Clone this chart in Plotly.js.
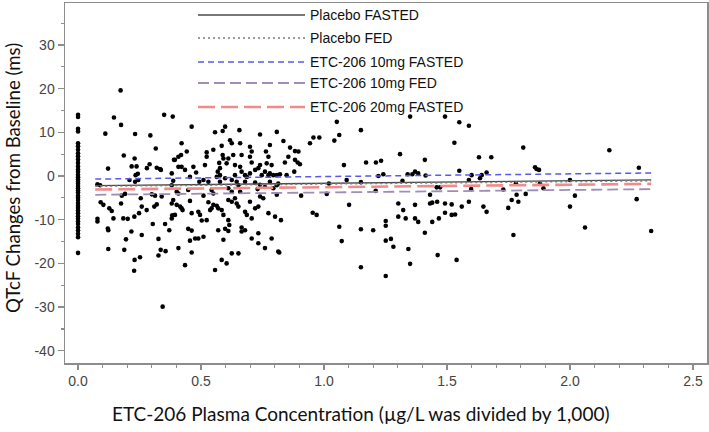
<!DOCTYPE html>
<html>
<head>
<meta charset="utf-8">
<script src="https://cdn.plot.ly/plotly-3.0.1.min.js"></script>
<style>html,body{margin:0;padding:0;background:#fff;}#chart{width:709px;height:432px;}</style>
</head>
<body>
<div id="chart"></div>
<script>
// Observed points: plasma concentration (x) vs QTcF change (y)
const concX = [
0,0,0,0,0,0,0,0,0,0,0,0,0,0,0,0,0,0,0,0,0,0,0,0,0,0,0,0,0,0,0,0,0,0,0,0,0,0,0,0,
0.173,0.146,0.175,0.35,0.385,0.111,0.232,0.294,0.316,0.186,0.23,0.122,0.218,0.238,0.291,0.32,0.333,0.243,0.209,0.232,
0.245,0.079,0.09,0.191,0.178,0.30,0.313,0.34,0.092,0.103,0.127,0.137,0.175,0.255,0.259,0.279,0.31,0.32,0.144,0.184,
0.202,0.229,0.248,0.079,0.079,0.121,0.123,0.304,0.354,0.371,0.217,0.259,0.195,0.327,0.123,0.188,0.336,0.356,0.327,0.23,
0.252,0.228,0.344,0.39,0.383,0.394,0.408,0.381,0.435,0.337,0.618,0.234,0.28,0.48,
0.462,0.557,0.588,0.598,0.656,0.74,0.808,0.421,0.419,0.442,0.421,0.408,0.469,0.516,0.523,0.523,0.55,0.584,0.588,0.591,
0.574,0.577,0.568,0.577,0.604,0.611,0.625,0.631,0.659,0.665,0.699,0.706,0.699,0.706,0.638,0.659,0.665,0.679,0.686,0.699,
0.679,0.72,0.733,0.747,0.76,0.774,0.78,0.794,0.808,0.767,0.774,0.787,0.764,0.78,0.74,0.381,0.387,0.401,0.408,0.387,
0.381,0.415,0.421,0.425,0.455,0.448,0.462,0.489,0.496,0.503,0.523,0.51,0.53,0.537,0.543,0.55,0.564,0.57,0.584,0.591,
0.611,0.615,0.55,0.543,0.611,0.625,0.638,0.645,0.652,0.611,0.625,0.659,0.679,0.686,0.706,0.699,0.72,0.733,0.74,0.753,
0.774,0.801,0.401,0.394,0.381,0.448,0.462,0.455,0.476,0.489,0.51,0.408,0.462,0.435,0.557,0.57,0.598,0.611,0.591,0.665,
0.665,0.679,0.625,0.652,0.584,0.604,0.706,0.733,0.733,0.76,0.787,0.814,0.72,0.74,0.76,0.73,0.645,0.652,0.638,0.625,
0.598,0.577,0.564,0.51,0.53,0.493,0.455,0.78,0.808,0.794,0.808,
1.052,1.15,1.35,0.957,0.981,0.943,1.062,1.042,0.835,0.862,0.855,0.841,0.882,0.896,0.882,0.893,0.902,0.821,0.848,0.879,
0.814,0.907,1.081,1.092,1.02,1.011,1.102,0.954,0.97,0.825,0.818,1.062,1.072,1.15,1.15,1.2,1.171,1.211,1.232,1.221,
1.241,1.21,1.251,1.251,1.251,1.272,1.282,1.15,1.251,1.309,1.302,1.322,1.302,1.332,1.319,1.34,1.359,1.37,1.383,1.343,
1.35,1.37,1.37,1.383,
1.492,1.55,1.589,1.53,1.81,2.16,1.41,1.63,1.68,1.858,1.864,1.874,2.28,1.413,1.55,1.6,1.641,1.661,1.634,1.589,
1.598,1.458,1.472,1.431,1.431,1.44,1.46,1.492,1.519,1.589,1.44,1.467,1.492,1.519,1.533,1.56,1.648,1.661,1.41,1.462,
1.539,1.729,1.749,1.763,1.783,1.79,1.82,1.78,1.77,1.878,1.892,2.0,2.02,2.0,2.061,2.271,2.33
];
const qtcfChange = [
14.0,13.5,10.8,10.2,7.5,6.8,6.0,5.2,4.5,3.8,3.0,2.2,1.5,1.0,0.3,-0.3,-0.8,-1.3,-1.8,-2.3,-2.8,-3.3,-3.8,-4.5,-5.0,-5.5,-6.2,-6.8,-7.3,-7.9,-8.5,-9.2,-9.8,-10.4,-11.0,-11.8,-12.5,-13.2,-14.0,-17.6,
19.6,13.4,11.7,14.0,13.6,9.7,9.6,9.3,6.3,4.7,4.0,1.7,2.2,2.2,2.7,1.9,1.6,0.5,-0.9,-1.3,
-0.9,-1.9,-2.1,-4.1,-4.5,-4.2,-4.5,-4.7,-6.0,-6.6,-7.4,-8.0,-6.3,-5.1,-7.0,-7.8,-7.0,-6.5,-9.7,-9.7,
-9.8,-9.3,-8.5,-9.8,-10.4,-12.0,-12.4,-11.0,-11.0,-12.4,-12.7,-13.5,-14.5,-14.4,-16.7,-16.9,-16.9,-17.2,-18.2,-19.2,
-18.6,-21.7,-29.9,3.7,-9.0,3.7,4.4,0.6,1.4,1.4,8.2,0.2,1.8,0.8,
11.3,10.0,10.3,11.3,10.5,9.5,10.1,7.5,4.8,5.6,2.1,2.1,2.1,2.5,5.4,4.4,6.0,6.9,4.8,4.0,
3.0,1.8,1.0,0.2,2.9,4.0,7.5,4.8,7.5,4.8,6.7,5.6,4.4,3.1,2.5,2.1,1.0,0.2,-0.2,0.6,
-1.3,1.4,1.8,0.2,1.0,0.2,0.6,0.2,0.2,2.9,4.4,2.5,5.6,7.1,2.5,-2.1,-1.1,-3.6,-4.0,-5.5,
-6.3,-7.0,-7.4,-7.8,-5.7,-3.2,-8.5,-8.2,-8.9,-10.2,-10.1,-4.5,-6.0,-7.8,-7.4,-6.6,-6.8,-7.4,-7.8,-8.9,
-10.1,-11.2,-4.0,-3.2,-5.5,-5.9,-5.1,-6.3,-7.0,-2.8,-3.6,-3.6,-8.2,-8.9,-9.7,-5.9,-7.4,-7.0,-4.7,-5.1,
-8.5,-9.3,-6.6,-8.9,-9.7,-12.1,-12.5,-14.8,-14.3,-14.3,-13.9,-16.5,-17.5,-20.4,-21.5,-12.4,-12.1,-12.6,-14.6,-11.8,
-12.7,-12.4,-17.7,-17.7,-19.2,-20.0,-14.3,-13.1,-15.4,-16.5,-14.3,-17.3,-1.5,-2.0,-2.5,-3.0,-1.3,-2.1,0.2,-0.9,
-0.5,-1.3,-0.2,-0.9,-1.3,-1.3,-0.2,-1.3,-2.1,-2.8,-4.3,
12.4,10.5,13.6,8.8,8.8,7.5,9.4,8.1,8.0,6.5,4.4,3.1,5.7,5.6,3.7,3.1,2.7,0.4,0.2,1.0,
-1.7,-4.5,2.5,-0.9,-1.7,-4.1,-6.6,-8.4,-8.9,-10.1,-17.5,-11.6,-14.9,-1.4,-12.2,-12.4,3.1,3.1,3.5,0.0,
0.4,-3.4,-10.3,-11.4,-14.8,-14.4,-16.2,-20.9,-22.9,5.0,-6.3,-7.8,-9.3,-9.7,-1.1,0.4,0.4,1.0,0.6,-16.7,
-20.1,-6.6,-9.7,-10.5,
13.6,12.3,11.5,7.6,6.5,5.9,3.7,4.3,4.3,2.0,1.6,1.4,1.9,0.1,1.2,0.2,0.2,0.8,-0.5,-0.9,
-3.0,-2.6,-2.6,-4.3,-6.3,-6.1,-5.9,-6.3,-6.5,-5.9,-10.5,-9.7,-8.4,-8.9,-8.8,-7.0,-7.0,-8.2,-13.0,-18.1,
-19.2,-3.1,-7.3,-5.5,-4.3,-5.9,-4.1,-1.7,-13.5,-1.7,-2.8,-0.9,-4.5,-7.0,-11.8,-5.3,-12.6
];

// Fitted regression lines (endpoints over observed concentration range)
const fitX = [0.07, 2.33];
const seriesNames = ["Placebo FASTED", "Placebo FED", "ETC-206 10mg FASTED", "ETC-206 10mg FED", "ETC-206 20mg FASTED"];
const placeboFasted = [-2.2, -0.9];
const placeboFed = [-2.35, -1.1];
const etc10Fasted = [-0.7, 0.7];
const etc10Fed = [-4.3, -3.0];
const etc20Fasted = [-3.1, -1.8];

const yTicks = [-40, -30, -20, -10, 0, 10, 20, 30];
const yTickText = ["-40", "-30", "-20", "-10", "0", "10", "20", "30"];
const xTicks = [0, 0.5, 1.0, 1.5, 2.0, 2.5];
const xTickText = ["0.0", "0.5", "1.0", "1.5", "2.0", "2.5"];

const styles = [
  {color: "#4a4a4a", width: 1.3, dash: "solid"},
  {color: "#7a7a7a", width: 1.5, dash: "2px,3px"},
  {color: "#5a5ae8", width: 1.5, dash: "6px,4px"},
  {color: "#a08cb8", width: 1.8, dash: "11px,5px"},
  {color: "#f28a8a", width: 2.6, dash: "17px,6px"}
];
const fitY = [placeboFasted, placeboFed, etc10Fasted, etc10Fed, etc20Fasted];

const traces = [{
  x: concX, y: qtcfChange, type: "scatter", mode: "markers",
  marker: {color: "#000", size: 4.6, symbol: "circle"},
  showlegend: false, hoverinfo: "x+y"
}];
fitY.forEach((ys, i) => {
  traces.push({x: fitX, y: ys, type: "scatter", mode: "lines", name: seriesNames[i],
    line: styles[i], showlegend: false});
});

// Manual legend (lines + labels) in pixel-derived paper coordinates
const plotL = 65, plotR = 707, plotT = 3, plotB = 363;
const px2x = p => (p - plotL) / (plotR - plotL);
const py2y = p => (plotB - p) / (plotB - plotT);
const legRows = [15, 38, 62, 83, 107];
const shapes = [], annotations = [];
legRows.forEach((r, i) => {
  shapes.push({type: "line", xref: "paper", yref: "paper",
    x0: px2x(198), x1: px2x(305), y0: py2y(r), y1: py2y(r), line: styles[i]});
  annotations.push({xref: "paper", yref: "paper", x: px2x(308), y: py2y(r),
    xanchor: "left", yanchor: "middle", showarrow: false, text: seriesNames[i],
    font: {family: "Liberation Sans, Arial, sans-serif", size: 14, color: "#111"}});
});
annotations.push({xref: "paper", yref: "paper", x: px2x(361), y: py2y(413),
  xanchor: "center", yanchor: "middle", showarrow: false,
  text: "ETC-206 Plasma Concentration (µg/L was divided by 1,000)",
  font: {family: "Lato, sans-serif", size: 19, color: "#111"}});
annotations.push({xref: "paper", yref: "paper", x: px2x(13), y: py2y(178),
  xanchor: "center", yanchor: "middle", showarrow: false, textangle: -90,
  text: "QTcF Changes from Baseline (ms)",
  font: {family: "Lato, sans-serif", size: 18.6, color: "#111"}});

const layout = {
  width: 709, height: 432,
  margin: {l: plotL, r: 709 - plotR, t: plotT, b: 432 - plotB},
  paper_bgcolor: "#fff", plot_bgcolor: "#fff",
  showlegend: false,
  xaxis: {range: [-0.053, 2.557], tickvals: xTicks, ticktext: xTickText,
    showgrid: false, zeroline: false, showline: true, mirror: true,
    linecolor: "#8c8c8c", linewidth: 1.5, ticks: "outside", ticklen: 5,
    tickcolor: "#8c8c8c", tickwidth: 1.2,
    minor: {dtick: 0.1, ticks: "outside", ticklen: 3, tickcolor: "#8c8c8c", showgrid: false},
    tickfont: {family: "Liberation Sans, Arial, sans-serif", size: 14, color: "#444"}},
  yaxis: {range: [-42.8, 39.6], tickvals: yTicks, ticktext: yTickText,
    showgrid: false, zeroline: false, showline: true, mirror: true,
    linecolor: "#8c8c8c", linewidth: 1.5, ticks: "outside", ticklen: 6,
    tickcolor: "#8c8c8c", tickwidth: 1.2,
    minor: {dtick: 5, ticks: "outside", ticklen: 3, tickcolor: "#8c8c8c", showgrid: false},
    tickfont: {family: "Liberation Sans, Arial, sans-serif", size: 14, color: "#444"}},
  shapes: shapes,
  annotations: annotations
};

Plotly.newPlot("chart", traces, layout, {displayModeBar: false, staticPlot: true});
</script>
</body>
</html>
